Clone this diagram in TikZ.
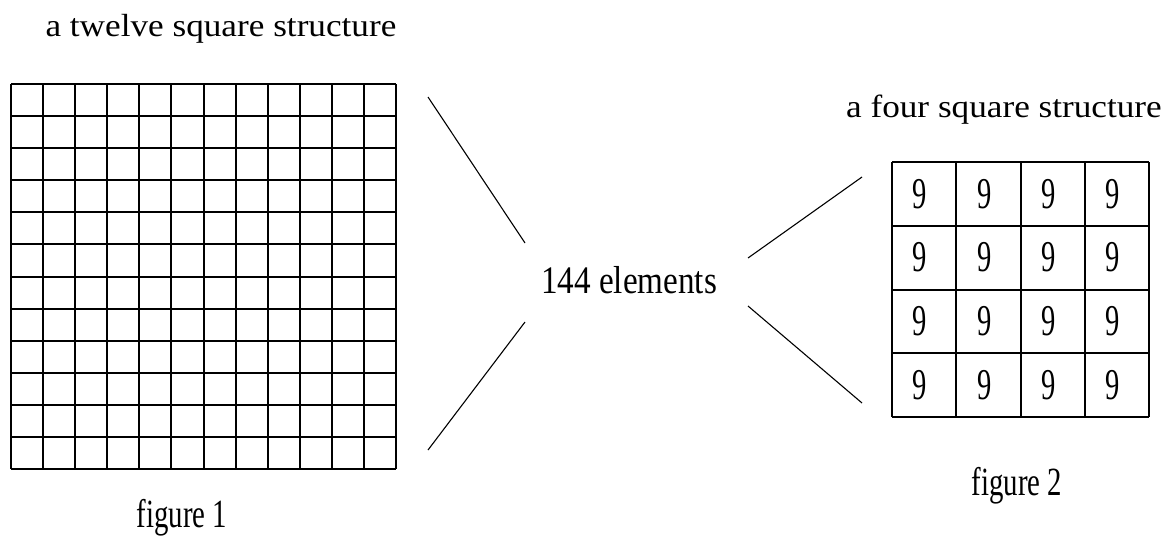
\documentclass[tikz,border=0pt]{standalone}
\usepackage{fontspec}
\setmainfont{Liberation Serif}
\newfontfamily\titlefont[FakeStretch=1.1]{Liberation Serif}
\newfontfamily\countfont[FakeStretch=0.85]{Liberation Serif}
\newfontfamily\capfont[FakeStretch=0.72]{Liberation Serif}
\newfontfamily\ninefont[FakeStretch=0.65]{Liberation Serif}
\usetikzlibrary{positioning}

\begin{document}
\begin{tikzpicture}[
  x=1pt, y=-1pt,
  title/.style={anchor=base, inner sep=0pt, font=\titlefont\fontsize{32}{36}\selectfont},
  caption/.style={anchor=base, inner sep=0pt, font=\capfont\fontsize{40}{44}\selectfont},
  count/.style={anchor=base, inner sep=0pt, font=\countfont\fontsize{39}{44}\selectfont},
  cell/.style={font=\ninefont\fontsize{44}{48}\selectfont, inner sep=0pt},
  gridline/.style={line width=2pt},
  link/.style={line width=1.1pt}
]
\useasboundingbox (0,0) rectangle (1172,536);

% twelve square structure
\foreach \k in {0,...,12}{
  \draw[gridline] ({11+\k*385/12},84) -- ({11+\k*385/12},469);
  \draw[gridline] (11,{84+\k*385/12}) -- (396,{84+\k*385/12});
}
\node[title] (title12) at (221,36) {a twelve square structure};
\node[caption] (fig1) at (182,527) {figure 1};

% four square structure
\foreach \k in {0,...,4}{
  \draw[gridline] ({892+\k*257/4},162) -- ({892+\k*257/4},417);
  \draw[gridline] (892,{162+\k*255/4}) -- (1149,{162+\k*255/4});
}
\foreach \i in {0,...,3}
  \foreach \j in {0,...,3}
    \node[cell] (nine\i\j) at ({892+(\i+0.5)*257/4-4},{162+(\j+0.5)*255/4}) {9};
\node[title] (title4) at (1004,117) {a four square structure};
\node[caption] (fig2) at (1017,495) {figure 2};

% elements
\node[count] (elem) at (629,293) {144 elements};

\coordinate (ul1) at (428,97);   \coordinate (ul2) at (525,243);
\coordinate (ll1) at (428,450);  \coordinate (ll2) at (525,322);
\coordinate (ur1) at (748,258);  \coordinate (ur2) at (862,177);
\coordinate (lr1) at (748,306);  \coordinate (lr2) at (862,403);

\draw[link] (ul1) -- (ul2);
\draw[link] (ll1) -- (ll2);
\draw[link] (ur1) -- (ur2);
\draw[link] (lr1) -- (lr2);
\end{tikzpicture}
\end{document}
